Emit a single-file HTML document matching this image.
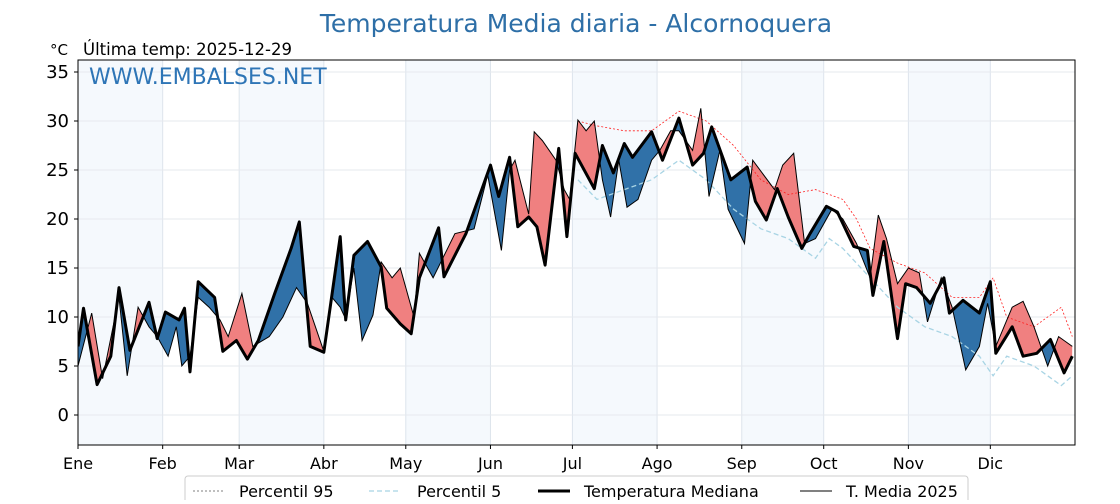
<!DOCTYPE html>
<html><head><meta charset="utf-8"><style>
body{margin:0;background:#fff;font-family:"DejaVu Sans",sans-serif}
svg text{font-family:"DejaVu Sans","Liberation Sans",sans-serif}
</style></head><body>
<svg id="c" width="1120" height="500">
<text x="576" y="32" text-anchor="middle" font-size="25" fill="#2e6fa7">Temperatura Media diaria - Alcornoquera</text>
<text x="50" y="55" font-size="15" fill="#000">°C</text>
<text x="83" y="55" font-size="16.5" fill="#000">Última temp: 2025-12-29</text>
<g id="bands"></g><g id="grid"></g>
<defs><clipPath id="above"><polygon id="abovePoly"/></clipPath><clipPath id="below"><polygon id="belowPoly"/></clipPath><clipPath id="plot"><rect x="78" y="60" width="997" height="385"/></clipPath></defs>
<g clip-path="url(#plot)">
<polygon id="redFill" fill="#f08080" clip-path="url(#above)"/>
<polygon id="blueFill" fill="#3071a8" clip-path="url(#below)"/>
<polyline id="p95" fill="none" stroke="#ff2020" stroke-width="0.8" stroke-dasharray="2,2"/>
<polyline id="p5" fill="none" stroke="#a8d4e4" stroke-width="1.3" stroke-dasharray="5,3"/>
<polyline id="medLine" fill="none" stroke="#000" stroke-width="3" stroke-linejoin="round"/>
<polyline id="curLine" fill="none" stroke="#000" stroke-width="1"/>
</g>
<rect x="78" y="60" width="997" height="385" fill="none" stroke="#000" stroke-width="1"/>
<text x="89" y="84" font-size="22" fill="#2e75b6">WWW.EMBALSES.NET</text>
<g id="yt"></g><g id="xt"></g>
<g>
<rect x="185" y="476" width="783" height="30" rx="3" fill="#fff" stroke="#ccc"/>
<line x1="193" y1="491" x2="225" y2="491" stroke="#555" stroke-width="0.8" stroke-dasharray="2,2"/>
<text x="239" y="497" font-size="16">Percentil 95</text>
<line x1="369" y1="491" x2="401" y2="491" stroke="#a8d4e4" stroke-width="1.3" stroke-dasharray="5,3"/>
<text x="417" y="497" font-size="16">Percentil 5</text>
<line x1="538" y1="491" x2="570" y2="491" stroke="#000" stroke-width="3"/>
<text x="584" y="497" font-size="16">Temperatura Mediana</text>
<line x1="800" y1="491" x2="832" y2="491" stroke="#000" stroke-width="1"/>
<text x="846" y="497" font-size="16">T. Media 2025</text>
</g>
</svg>
<script>
const months=["Ene","Feb","Mar","Abr","May","Jun","Jul","Ago","Sep","Oct","Nov","Dic"];
const monthStart=[0,31,59,90,120,151,181,212,243,273,304,334];
const yTicks=[0,5,10,15,20,25,30,35];
const medDays=[0,2,7,12,15,19,26,29,32,37,39,41,44,50,53,58,62,66,72,78,81,85,90,96,98,101,106,111,113,118,122,125,132,134,142,151,154,158,161,165,168,171,176,179,182,189,192,196,200,203,210,214,220,225,229,232,239,245,248,252,256,260,265,268,274,278,284,289,291,295,300,303,307,312,317,319,324,330,334,336,342,346,351,356,361,364];
const medVals=[7,10.9,3.1,6,13,6.6,11.5,7.8,10.5,9.7,10.9,4.4,13.6,12,6.5,7.6,5.7,7.6,12.4,17,19.7,7,6.4,18.2,9.7,16.3,17.7,15.1,10.9,9.3,8.3,14,19.1,14.1,18.5,25.5,22.3,26.3,19.2,20.2,19.2,15.3,27.2,18.2,26.7,23.1,27.5,24.7,27.7,26.3,28.9,26,30.3,25.5,26.7,29.4,24,25.3,21.8,19.9,23.1,20.2,17,18.5,21.3,20.7,17.2,16.8,12.2,17.7,7.8,13.4,13,11.4,14,10.4,11.7,10.4,13.6,6.3,9,6,6.3,7.7,4.3,6];
const curDays=[0,5,9,15,18,22,26,29,33,36,38,41,44,48,52,55,60,64,70,75,80,84,90,93,96,98,101,104,108,111,115,118,120,123,125,130,138,145,150,155,158,160,165,167,170,175,178,180,183,186,189,192,195,198,201,205,210,213,217,220,225,228,231,235,238,244,247,255,258,262,266,270,276,280,285,290,293,296,300,304,308,311,316,320,325,330,333,336,342,346,350,355,359,364];
const curVals=[5,10.4,3.7,12,4,11,9,8,6,9,5,6,12,11,9.7,8,12.4,7,8,10,13,11.4,6.5,12,11,9.8,15,7.6,10.2,15.6,14,15,13,10,16.5,14,18.5,19,24.5,16.8,25,26,20.5,28.9,28,26,23,22,30.1,29,30,24,20.2,26,21.2,22,26,27,29,29,27,31.3,22.3,27,21,17.5,26,23,25.5,26.7,17.5,18,21,20,17.5,14,20.4,18,13.4,15,14.5,9.5,14,11,4.6,7,11.4,7,11,11.6,9,5,8,7];
const p95Days=[183,190,200,210,220,230,240,250,260,270,275,280,285,290,300,310,320,330,335,340,350,360,364];
const p95Vals=[30,29.5,29,29,31,30,27.5,24,22.5,23,22.5,22,20,17,15.5,14.5,12,12,14,10,9,11,8];
const p5Days=[183,190,200,210,220,230,240,250,260,270,275,280,290,300,310,320,330,335,340,350,360,364];
const p5Vals=[24,22,23,24,26,24,21,19,18,16,18,17,14,11,9,8,6,4,6,5,3,4];
const X0=78,XW=997/365,Y0=415,YS=9.8;
const xs=d=>X0+d*XW, ys=v=>Y0-v*YS;
const pts=(ds,vs)=>ds.map((d,i)=>xs(d).toFixed(1)+","+ys(vs[i]).toFixed(1));
const NS="http://www.w3.org/2000/svg";
const bands=document.getElementById('bands'),grid=document.getElementById('grid'),yt=document.getElementById('yt'),xt=document.getElementById('xt');
monthStart.forEach((m,i)=>{
 const end=i<11?monthStart[i+1]:365;
 if(i%2===0){const r=document.createElementNS(NS,'rect');
  r.setAttribute('x',xs(m));r.setAttribute('y',60);r.setAttribute('width',xs(end)-xs(m));r.setAttribute('height',385);r.setAttribute('fill','#f5f9fd');
  
  
  bands.appendChild(r);}
 const l=document.createElementNS(NS,'line');l.setAttribute('x1',xs(m));l.setAttribute('x2',xs(m));l.setAttribute('y1',60);l.setAttribute('y2',445);l.setAttribute('stroke','#dde4ec');
 
 
 grid.appendChild(l);
 const tk=document.createElementNS(NS,'line');tk.setAttribute('x1',xs(m));tk.setAttribute('x2',xs(m));tk.setAttribute('y1',445);tk.setAttribute('y2',449);tk.setAttribute('stroke','#000');xt.appendChild(tk);
 const t=document.createElementNS(NS,'text');t.setAttribute('x',xs(m));t.setAttribute('y',469);t.setAttribute('text-anchor','middle');t.setAttribute('font-size','16');t.textContent=months[i];
 
 
 xt.appendChild(t);
});
yTicks.forEach(v=>{
 const l=document.createElementNS(NS,'line');l.setAttribute('x1',78);l.setAttribute('x2',1075);l.setAttribute('y1',ys(v));l.setAttribute('y2',ys(v));l.setAttribute('stroke','#e6e9ee');
 
 
 grid.appendChild(l);
 const tk=document.createElementNS(NS,'line');tk.setAttribute('x1',74);tk.setAttribute('x2',78);tk.setAttribute('y1',ys(v));tk.setAttribute('y2',ys(v));tk.setAttribute('stroke','#000');yt.appendChild(tk);
 const t=document.createElementNS(NS,'text');t.setAttribute('x',69);t.setAttribute('y',ys(v)+6);t.setAttribute('text-anchor','end');t.setAttribute('font-size','18');t.textContent=v;
 
 
 yt.appendChild(t);
});
const med=pts(medDays,medVals),cur=pts(curDays,curVals);
const first=xs(medDays[0]),last=xs(medDays[medDays.length-1]);
document.getElementById('abovePoly').setAttribute('points',med.concat([last+5+",0",first-5+",0"]).join(" "));
document.getElementById('belowPoly').setAttribute('points',med.concat([last+5+",500",first-5+",500"]).join(" "));
const area=cur.concat(med.slice().reverse()).join(" ");
document.getElementById('redFill').setAttribute('points',area);
document.getElementById('blueFill').setAttribute('points',area);
document.getElementById('medLine').setAttribute('points',med.join(" "));
document.getElementById('curLine').setAttribute('points',cur.join(" "));
document.getElementById('p95').setAttribute('points',pts(p95Days,p95Vals).join(" "));
document.getElementById('p5').setAttribute('points',pts(p5Days,p5Vals).join(" "));
</script>
</body></html>
